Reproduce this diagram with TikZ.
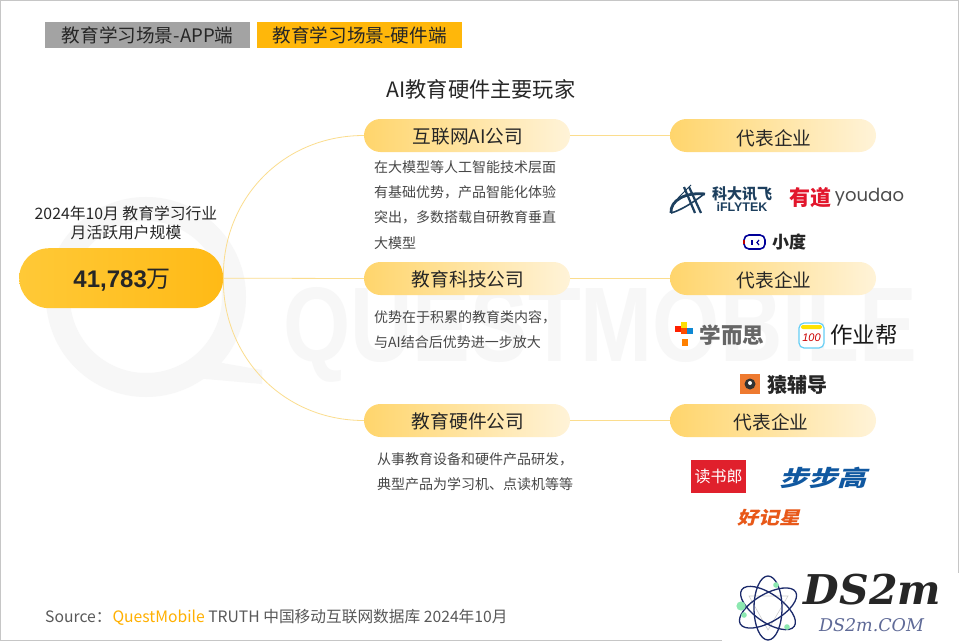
\documentclass[tikz,border=0pt]{standalone}
\usepackage{fontspec}
\setmainfont{Noto Sans CJK SC}
\newfontfamily\latinf{Liberation Sans}
\newfontfamily\pop{Poppins}
\newfontfamily\serifb{DejaVu Serif}
\newcommand{\fs}[1]{\fontsize{#1pt}{#1pt}\selectfont}
\newcommand{\low}[2]{\raisebox{-#1pt}[0pt][0pt]{#2}}
\definecolor{txt}{HTML}{262626}
\definecolor{lineY}{HTML}{FBDD8E}
\definecolor{pillL}{HTML}{FFD56C}
\definecolor{pillR}{HTML}{FFF3D8}
\definecolor{wm}{HTML}{F7F7F7}
\definecolor{navy}{HTML}{1B2A6B}
\definecolor{mint}{HTML}{8CE8B0}
\definecolor{tabO}{HTML}{FFB70A}
\definecolor{mainL}{HTML}{FFC937}
\definecolor{mainR}{HTML}{FFBA16}
\definecolor{ifly}{HTML}{1D3F5E}
\definecolor{ydred}{HTML}{E2162C}
\definecolor{yfdo}{HTML}{EE7A30}
\definecolor{dslr}{HTML}{E0202C}
\definecolor{bbgb}{HTML}{1058A0}
\definecolor{hjxo}{HTML}{E85818}
\definecolor{qmo}{HTML}{FFB000}
\tikzset{
  x=1pt,y=-1pt,
  pill/.style={minimum width=206pt,minimum height=33pt,inner sep=0pt,rounded corners=16.5pt,left color=pillL,right color=pillR,text=txt,font=\fs{18.7}},
  conn/.style={draw=lineY,line width=0.8pt},
  tab/.style={minimum width=205pt,minimum height=26pt,inner sep=0pt,text=txt,font=\fs{18.6}},
  body/.style={anchor=west,inner sep=0pt,text=txt!85!white,font=\fs{14}},
  logo/.style={inner sep=0pt,font=\fs{20}\bfseries},
}
\begin{document}
\begin{tikzpicture}
\useasboundingbox (0,0) rectangle (960,642);
\fill[white] (0,0) rectangle (960,642);
% frame
\draw[gray!45,line width=1pt] (958.5,573) -- (958.5,0.5) -- (0.5,0.5) -- (0.5,640.5) -- (722,640.5);
% watermark
\draw[wm,line width=24pt] (146,297) circle (88);
\fill[wm] (205,360) -- (262,370) -- (262,384) -- (195,378) -- cycle;
\node[inner sep=0pt,text=wm,xscale=.815,transform shape,anchor=center,font=\latinf\bfseries\fs{106}] (wmark) at (600,335) {QUESTMOBILE};
% tabs
\node[tab,fill=black!36,anchor=north west] (tabA) at (45,22) {教育学习场景-APP端};
\node[tab,fill=tabO,anchor=north west] (tabB) at (257,22) {教育学习场景-硬件端};
\node[inner sep=0pt,text=txt,font=\fs{21.2}] (title) at (481,89) {AI教育硬件主要玩家};
% main
\node[inner sep=0pt,align=center,text=txt,font=\fs{15.8}] (cap) at (126,223) {2024年10月 教育学习行业\\[3pt]月活跃用户规模};
\node[minimum width=204pt,minimum height=60pt,inner sep=0pt,rounded corners=30pt,left color=mainL,right color=mainR,anchor=north west,text=txt] (main) at (19,248) {\hspace{2pt}\low{9.4}{{\latinf\bfseries\fs{24}41,783}{\fs{24}万}}};
% pills
\node[pill] (a1) at (467,135.5) {\hspace{2pt}\low{7.8}{互联网AI公司}};
\node[pill] (a2) at (467,278.5) {\hspace{2pt}\low{7.8}{教育科技公司}};
\node[pill] (a3) at (467,420.5) {\hspace{2pt}\low{7.8}{教育硬件公司}};
\node[pill] (b1) at (773,135.5) {\hspace{2pt}\low{9.8}{代表企业}};
\node[pill] (b2) at (773,278.5) {\hspace{2pt}\low{8.8}{代表企业}};
\node[pill] (b3) at (773,420.5) {\hspace{-4pt}\low{8.8}{代表企业}};
% connectors
\draw[conn] (a1.west) .. controls (282,135.5) and (222,200) .. (main.east);
\draw[conn] (main.east) .. controls (222,355) and (282,420.5) .. (a3.west);
\draw[conn] (main.east) -- (a2.west);
\draw[conn] (a1.east) -- (b1.west);
\draw[conn] (a2.east) -- (b2.west);
\draw[conn] (a3.east) -- (b3.west);
% body text
\node[body] (t11) at (374,167) {在大模型等人工智能技术层面};
\node[body] (t12) at (374,192) {有基础优势，产品智能化体验};
\node[body] (t13) at (374,217) {突出，多数搭载自研教育垂直};
\node[body] (t14) at (374,243) {大模型};
\node[body] (t21) at (374,317) {优势在于积累的教育类内容，};
\node[body] (t22) at (374,342) {与AI结合后优势进一步放大};
\node[body] (t31) at (377,459) {从事教育设备和硬件产品研发，};
\node[body] (t32) at (377,484) {典型产品为学习机、点读机等等};
% iflytek
\draw[ifly,line width=2.8pt] (705,194) .. controls (686,192) and (670,200) .. (671,213);
\draw[ifly,line width=2.2pt] (684,187) -- (695,213);
\draw[ifly,line width=2.2pt] (689,187) -- (701,213);
\draw[ifly,line width=1.6pt] (671,213) .. controls (679,211) and (693,203) .. (704,194);
\draw[ifly,line width=1pt] (678,198) -- (691,185);
\node[logo,text=ifly,font=\fs{15}\bfseries] (kd) at (742,194) {科大讯飞};
\node[logo,text=ifly,font=\latinf\fs{12.5}\bfseries] (ift) at (742,207) {iFLYTEK};
% youdao
\node[logo,text=ydred,font=\fs{21}\bfseries] (yd) at (810,198) {有道};
\node[logo,text=black!70,font=\pop\fs{18}] (ydl) at (869.5,197) {youdao};
% xiaodu
\draw[blue!60!black,line width=1.6pt,rounded corners=5pt] (744,235) rectangle (765,249);
\draw[red!75!black,line width=1.6pt] (744,244) -- (744,240);
\fill[blue!60!black] (751,240) rectangle (752.5,245);
\draw[blue!60!black,line width=1.2pt] (759,240) -- (757,242.5) -- (759,245);
\node[logo,text=black!85,font=\fs{17}\bfseries] (xd) at (789,242) {小度};
% xueersi
\fill[red!75!orange] (675,326) rectangle (681,332);
\fill[yellow!80!orange] (681,322) rectangle (687,328);
\fill[cyan!70!blue] (687,328) rectangle (693,334);
\fill[red!70!yellow] (681,328) rectangle (687,334);
\fill[orange] (682,339) rectangle (688,346);
\node[logo,text=black!60,font=\fs{21.6}\bfseries] (xes) at (732,335) {学而思};
% zuoyebang
\draw[cyan!60,fill=white,line width=1.2pt,rounded corners=5pt] (799,323) rectangle (824,348);
\fill[yellow!85!orange,rounded corners=2pt] (801,325) rectangle (822,329);
\node[inner sep=0pt,text=red!80!black,font=\latinf\itshape\fs{11}] (h100) at (811.5,338) {100};
\node[logo,text=black!90,font=\fs{22.5}] (zyb) at (864,335) {作业帮};
% yuanfudao
\fill[yfdo] (740,374) rectangle (760,394);
\fill[black!80] (750,384) circle (5.5);
\fill[white] (750,383) circle (2);
\node[logo,text=black!85,font=\fs{20}\bfseries] (yfd) at (797,385) {猿辅导};
% dushulang
\node[fill=dslr,minimum width=55pt,minimum height=33pt,inner sep=0pt,text=white,font=\fs{16}] (dsl) at (718.5,476.5) {读书郎};
% bubugao
\node[logo,text=bbgb,font=\fs{28}\bfseries,xslant=.3,xscale=1.04,yscale=.8,transform shape] (bbg) at (826,478) {步步高};
% haojixing
\node[logo,text=hjxo,font=\fs{21}\bfseries,xslant=.25,yscale=.85,transform shape] (hjx) at (771,518) {好记星};
% source
\node[inner sep=0pt,anchor=west,text=black!65,font=\fs{15.7}] (src) at (45,617) {Source：\hspace{1pt}{\color{qmo}QuestMobile} TRUTH 中国移动互联网数据库 2024年10月};
% DS2M logo
\fill[white] (722,573) rectangle (960,642);
\begin{scope}[shift={(768,608)}]
\draw[gray!40,line width=.6pt] (-19,-12) -- (20,-12) -- (0,22) -- cycle;
\foreach \r in {-35,30,90}{\draw[navy,line width=1.3pt,rotate=\r] (0,0) ellipse (32 and 14);}
\end{scope}
\fill[mint] (741,606) circle (4.6) (776,585) circle (2.8) (744,615) circle (2.8) (787,627) circle (2.8);
\node[inner sep=0pt,text=black!85,font=\serifb\bfseries\itshape\fs{41}] (ds) at (872.5,590) {DS2m};
\node[inner sep=0pt,text=navy!70,font=\serifb\itshape\fs{17.5}] (dc) at (871.5,625) {DS2m.COM};
\end{tikzpicture}
\end{document}
